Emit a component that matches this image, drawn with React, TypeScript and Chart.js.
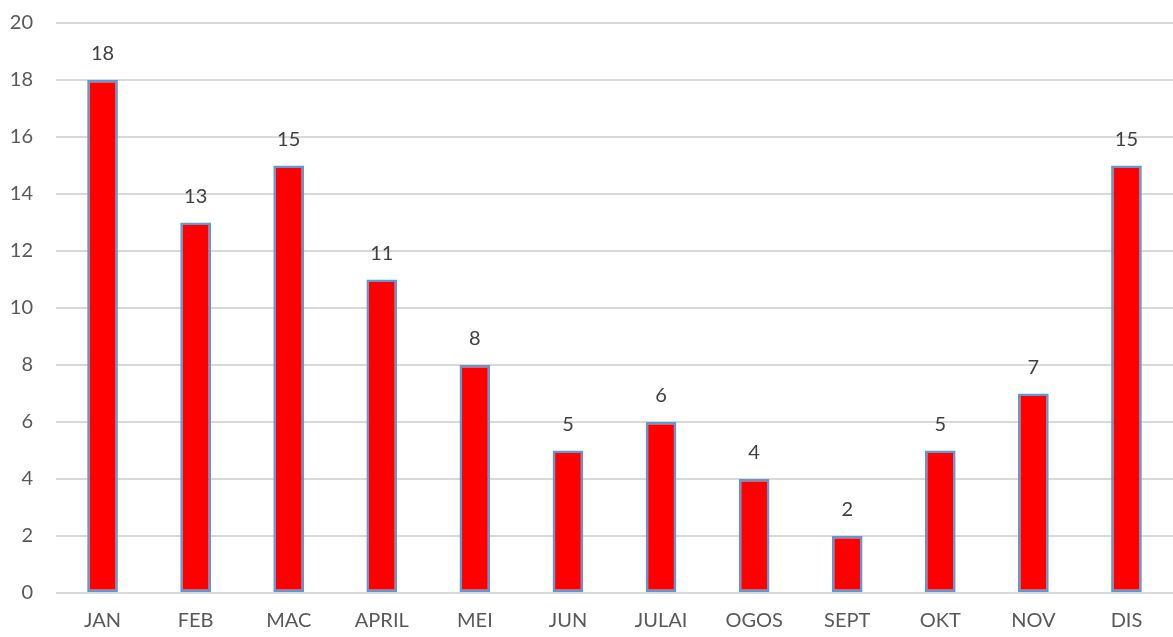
import React, { useEffect, useRef } from "react";
import { Chart, registerables } from "chart.js";

Chart.register(...registerables);

const categories = ["JAN", "FEB", "MAC", "APRIL", "MEI", "JUN", "JULAI", "OGOS", "SEPT", "OKT", "NOV", "DIS"];
const values = [18, 13, 15, 11, 8, 5, 6, 4, 2, 5, 7, 15];
const yTicks = [0, 2, 4, 6, 8, 10, 12, 14, 16, 18, 20];

const FONT = "Lato, 'Open Sans', sans-serif";
const TEXT = "#595959";

const labelPlugin = {
  id: "valueLabels",
  afterDatasetsDraw(chart: any) {
    const ctx = chart.ctx;
    const meta = chart.getDatasetMeta(0);
    ctx.save();
    ctx.font = `20px ${FONT}`;
    ctx.fillStyle = "#404040";
    ctx.textAlign = "center";
    ctx.textBaseline = "middle";
    meta.data.forEach((bar: any, i: number) => {
      ctx.fillText(String(values[i]), bar.x, bar.y - 26);
    });
    ctx.restore();
  },
};

export default function App() {
  const ref = useRef<HTMLCanvasElement | null>(null);
  useEffect(() => {
    document.body.style.margin = "0";
    const chart = new Chart(ref.current as HTMLCanvasElement, {
      type: "bar",
      data: {
        labels: categories,
        datasets: [
          {
            data: values,
            backgroundColor: "#FF0000",
            borderColor: "#5B9BD5",
            borderWidth: 2.5,
            borderSkipped: false,
            barPercentage: 0.33,
            categoryPercentage: 1,
          },
        ],
      },
      options: {
        animation: false,
        responsive: false,
        maintainAspectRatio: false,
        layout: { padding: { top: 23, left: 0, right: 0, bottom: 0 } },
        plugins: { legend: { display: false }, tooltip: { enabled: false } },
        scales: {
          x: {
            grid: { display: false, drawTicks: false },
            border: { display: false },
            ticks: { color: TEXT, font: { family: FONT, size: 20 }, padding: 16, maxRotation: 0, autoSkip: false },
            afterFit: (s: any) => { s.height = 44; s.paddingLeft = 0; s.paddingRight = 0; },
          },
          y: {
            min: 0,
            max: 20,
            afterBuildTicks: (s: any) => { s.ticks = yTicks.map((v) => ({ value: v })); },
            grid: { color: "#D9D9D9", lineWidth: 2, drawTicks: false },
            border: { display: false },
            ticks: { color: TEXT, font: { family: FONT, size: 20 }, padding: 23 },
            afterFit: (s: any) => { s.width = 56; s.paddingTop = 0; s.paddingBottom = 0; },
          },
        },
      },
      plugins: [labelPlugin],
    });
    return () => chart.destroy();
  }, []);
  return (
    <div style={{ position: "absolute", left: 0, top: 0, width: 1173, height: 637 }}>
      <canvas ref={ref} width={1173} height={637} style={{ display: "block" }} />
    </div>
  );
}
